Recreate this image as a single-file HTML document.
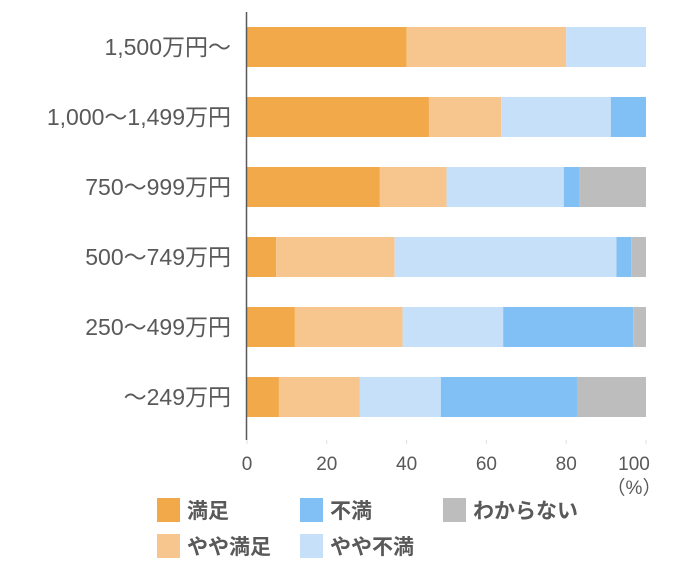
<!DOCTYPE html>
<html><head><meta charset="utf-8"><style>
body{margin:0;background:#fff;width:700px;height:559px;overflow:hidden}
svg text{font-family:"Liberation Sans","Noto Sans CJK JP",sans-serif;fill:#595959}
</style></head><body>
<svg id="c" width="700" height="559"></svg>
<script>
const categories=["1,500万円〜","1,000〜1,499万円","750〜999万円","500〜749万円","250〜499万円","〜249万円"];
const seriesNames=["満足","やや満足","やや不満","不満","わからない"];
const manzoku=[40,45.6,33.3,7.3,12,8];
const yayaManzoku=[40,18.1,16.7,29.7,27,20.3];
const yayaFuman=[20,27.5,29.4,55.6,25.2,20.3];
const fuman=[0,8.8,4,3.7,32.6,34.1];
const wakaranai=[0,0,16.6,3.7,3.2,17.3];
const ticks=[0,20,40,60,80,100];
const colors=["#F2A94A","#F7C68F","#C5E0F8","#80C0F5","#BDBDBD"];
const NS="http://www.w3.org/2000/svg";
const svg=document.getElementById('c');
const x=v=>247+v*3.99;
const yc=i=>47+i*70;
function el(t,a,p){const e=document.createElementNS(NS,t);for(const k in a)e.setAttribute(k,a[k]);(p||svg).appendChild(e);return e;}
const series=[manzoku,yayaManzoku,yayaFuman,fuman,wakaranai];
categories.forEach((c,i)=>{
  const t=el('text',{x:231,y:yc(i)+8,'text-anchor':'end','font-size':23});
  t.textContent=c;
  
  
  let acc=0;
  series.forEach((s,j)=>{
    if(s[i]<=0)return;
    const r=el('rect',{x:x(acc),y:yc(i)-20,width:x(acc+s[i])-x(acc),height:40,fill:colors[j]});
    
    
    acc+=s[i];
  });
});
const ax=el('line',{x1:246.5,y1:12,x2:246.5,y2:440,stroke:'#595959','stroke-width':1.5});


ticks.forEach(v=>{
  const t=el('text',{x:Math.min(x(v),634),y:470,'text-anchor':'middle','font-size':19});
  t.textContent=v;
  
  
  const m=el('line',{x1:x(v),y1:440,x2:x(v),y2:444,stroke:'#e0e0e0'});
  
  
});
const u=el('text',{x:634,y:494,'text-anchor':'middle','font-size':19});
u.textContent="（%）";


const legPos=[[157,498],[157,534],[300,534],[300,498],[443,498]];
seriesNames.forEach((n,j)=>{
  const [lx,ly]=legPos[j];
  const r=el('rect',{x:lx,y:ly,width:23,height:24,fill:colors[j]});
  
  
  const t=el('text',{x:lx+30,y:ly+20,'font-size':21,'font-weight':'bold'});
  t.textContent=n;
  
  
});
</script>
</body></html>
